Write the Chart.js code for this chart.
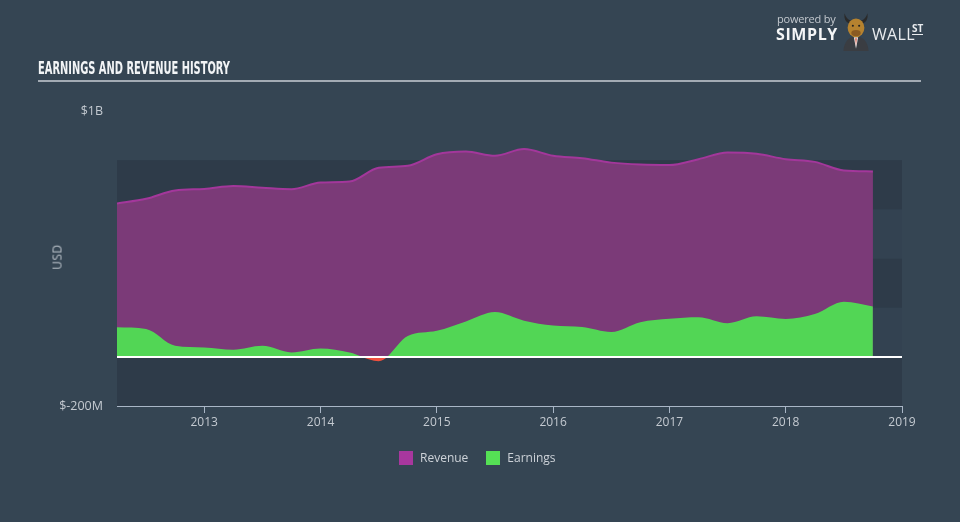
<!DOCTYPE html>
<html>
<head>
<meta charset="utf-8">
<script src="https://cdn.jsdelivr.net/npm/chart.js@4"></script>
<style>
  html, body { margin: 0; padding: 0; }
  body { width: 960px; height: 522px; background: #354553; position: relative; overflow: hidden; font-family: "Open Sans", "DejaVu Sans", sans-serif; }
  #wrap { position: absolute; left: 0; top: 0; width: 960px; height: 522px; }
  #title { position: absolute; left: 38px; top: 57px; font-family: "Liberation Sans Narrow", "DejaVu Sans Condensed", sans-serif; font-weight: bold; font-size: 18px; color: #f2f4f6; white-space: nowrap; transform-origin: 0 0; letter-spacing: 0; }
  #rule { position: absolute; left: 38px; top: 80px; width: 883px; height: 2px; background: #a3abb4; }
  #usd { position: absolute; left: 57px; top: 257px; transform: translate(-50%, -50%) rotate(-90deg); font-size: 12px; color: #b9c0c8; letter-spacing: 0.5px; }
  #legend { position: absolute; top: 449px; left: 399px; display: flex; align-items: center; font-size: 12px; color: #cdd2d8; }
  .sw { width: 14px; height: 14px; display: inline-block; margin-right: 7px; }
  .item { display: flex; align-items: center; margin-right: 18px; }
  #logo { position: absolute; left: 776px; top: 8px; width: 150px; height: 44px; }
  #powered { position: absolute; left: 1px; top: 3px; font-size: 11px; color: #c3c8ce; letter-spacing: -0.2px; }
  #simply { position: absolute; left: 0px; top: 15px; font-size: 16px; font-weight: bold; color: #f4f5f6; letter-spacing: 0.6px; }
  #wall { position: absolute; left: 96px; top: 15px; font-size: 16px; color: #e9ecef; letter-spacing: 0.3px; }
  #st { position: absolute; left: 136px; top: 14px; font-size: 10px; font-weight: bold; color: #e9ecef; border-bottom: 1.5px solid #e9ecef; line-height: 12px; }
  #bull { position: absolute; left: 64px; top: 1px; }
</style>
</head>
<body>
<div id="wrap"><canvas id="c" width="960" height="522"></canvas></div>
<div id="title">EARNINGS AND REVENUE HISTORY</div>
<div id="rule"></div>
<div id="usd">USD</div>
<div id="legend">
  <div class="item"><span class="sw" style="background:#a8379e"></span>Revenue</div>
  <div class="item"><span class="sw" style="background:#55e055"></span>Earnings</div>
</div>
<div id="logo">
  <div id="powered">powered by</div>
  <div id="simply">SIMPLY</div>
  <svg id="bull" width="32" height="44" viewBox="0 0 30 42">
    <path d="M4 4 Q3 12 9 14 L10 11 Q6 10 4 4Z" fill="#2a2a2a"/>
    <path d="M26 4 Q27 12 21 14 L20 11 Q24 10 26 4Z" fill="#2a2a2a"/>
    <path d="M3 40 Q4 27 15 26 Q26 27 27 40 Z" fill="#3a3d42"/>
    <path d="M13 27 L15 38 L17 27 Z" fill="#f2f2f2"/>
    <path d="M14.3 28 L15 35 L15.7 28 Z" fill="#d8452c"/>
    <ellipse cx="15" cy="18" rx="8" ry="9" fill="#b5822f"/>
    <ellipse cx="15" cy="23" rx="4.5" ry="3" fill="#8a5a22"/>
    <circle cx="12" cy="16" r="1" fill="#222"/>
    <circle cx="18" cy="16" r="1" fill="#222"/>
  </svg>
  <div id="wall">WALL</div>
  <div id="st">ST</div>
</div>
<script>
// ---- data (USD) ----
const periods = [2012.25, 2012.5, 2012.75, 2013.0, 2013.25, 2013.5, 2013.75, 2014.0, 2014.25, 2014.5, 2014.75,
                 2015.0, 2015.25, 2015.5, 2015.75, 2016.0, 2016.25, 2016.5, 2016.75, 2017.0, 2017.25, 2017.5,
                 2017.75, 2018.0, 2018.25, 2018.5, 2018.75];
const revenue = [624e6, 643e6, 677e6, 683e6, 695e6, 688e6, 682e6, 709e6, 713e6, 769e6, 777e6,
                 824e6, 835e6, 818e6, 845e6, 818e6, 808e6, 790e6, 782e6, 780e6, 804e6, 831e6,
                 826e6, 804e6, 793e6, 758e6, 754e6];
const earnings = [120e6, 113e6, 45e6, 38e6, 29e6, 45e6, 18e6, 34e6, 18e6, -18e6, 85e6,
                  106e6, 144e6, 182e6, 147e6, 127e6, 121e6, 101e6, 141e6, 155e6, 161e6, 137e6,
                  165e6, 154e6, 174e6, 224e6, 205e6];
const yearTicks = [2013, 2014, 2015, 2016, 2017, 2018, 2019];
const bandEdges = [-200e6, 0, 200e6, 400e6, 600e6, 800e6];

// fit title width
const t = document.getElementById('title');
const w = t.getBoundingClientRect().width;
t.style.transform = 'scaleX(' + (192 / w) + ')';

const bandsPlugin = {
  id: 'bands',
  beforeDatasetsDraw(chart) {
    const { ctx, chartArea, scales } = chart;
    const y = scales.y;
    ctx.save();
    for (let i = 0; i < bandEdges.length - 1; i++) {
      const top = y.getPixelForValue(bandEdges[i + 1]);
      const bot = y.getPixelForValue(bandEdges[i]);
      ctx.fillStyle = (i % 2 === 0) ? '#2e3b49' : '#334251';
      ctx.fillRect(chartArea.left, top, chartArea.right - chartArea.left, bot - top);
    }
    ctx.restore();
  },
  afterDatasetsDraw(chart) {
    const { ctx, chartArea, scales } = chart;
    const y0 = Math.round(scales.y.getPixelForValue(0));
    ctx.save();
    ctx.strokeStyle = '#ffffff';
    ctx.lineWidth = 2;
    ctx.beginPath();
    ctx.moveTo(chartArea.left, y0);
    ctx.lineTo(chartArea.right, y0);
    ctx.stroke();
    ctx.restore();
  }
};

new Chart(document.getElementById('c'), {
  type: 'line',
  data: {
    datasets: [
      {
        label: 'Revenue',
        data: periods.map((p, i) => ({ x: p, y: revenue[i] })),
        borderColor: '#a3379b',
        borderWidth: 2,
        backgroundColor: '#7b3a78',
        fill: 'origin',
        pointRadius: 0,
        cubicInterpolationMode: 'monotone',
        order: 2
      },
      {
        label: 'Earnings',
        data: periods.map((p, i) => ({ x: p, y: earnings[i] })),
        borderColor: 'rgba(0,0,0,0)',
        borderWidth: 0,
        backgroundColor: '#52d655',
        fill: { target: 'origin', above: '#52d655', below: '#f0503e' },
        pointRadius: 0,
        cubicInterpolationMode: 'monotone',
        order: 1
      }
    ]
  },
  options: {
    responsive: false,
    animation: false,
    layout: { padding: { left: 0, right: 58, top: 111, bottom: 86 } },
    plugins: { legend: { display: false }, tooltip: { enabled: false } },
    scales: {
      x: {
        type: 'linear',
        min: 2012.25,
        max: 2019,
        afterBuildTicks: (s) => { s.ticks = yearTicks.map(v => ({ value: v })); },
        afterFit: (s) => { s.height = 30; },
        grid: { display: true, drawOnChartArea: false, drawTicks: true, tickLength: 7, color: '#a9b6c6', lineWidth: 1 },
        border: { display: true, color: '#a9b6c6', width: 1 },
        ticks: { color: '#c4cad1', font: { family: 'Open Sans', size: 12 }, padding: 2, maxRotation: 0, autoSkip: false,
                 callback: (v) => String(v) }
      },
      y: {
        min: -200e6,
        max: 1000e6,
        afterFit: (s) => { s.width = 117; },
        grid: { display: false },
        border: { display: false },
        ticks: {
          stepSize: 200e6,
          color: '#c4cad1',
          padding: 6,
          font: { family: 'Open Sans', size: 12.5 },
          autoSkip: false,
          callback: (v) => v === 1000e6 ? '$1B' : (v === -200e6 ? '$-200M' : '')
        }
      }
    }
  },
  plugins: [bandsPlugin]
});
</script>
</body>
</html>
